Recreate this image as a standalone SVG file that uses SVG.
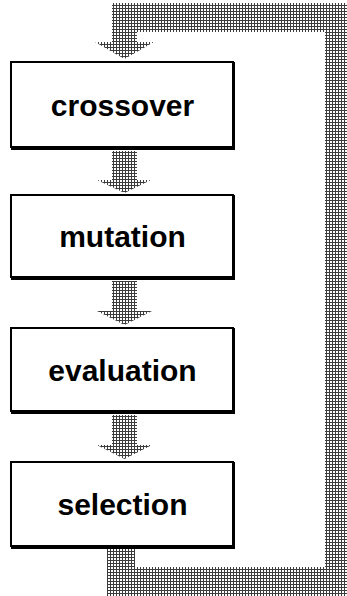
<svg xmlns="http://www.w3.org/2000/svg" width="347" height="596" viewBox="0 0 347 596">
  <defs>
    <pattern id="dither" width="3" height="3" patternUnits="userSpaceOnUse">
      <rect width="3" height="3" fill="#3c3c3c"/>
      <rect x="0" y="0" width="2" height="2" fill="#ffffff"/>
    </pattern>
  </defs>
  <style>
    .box { fill: #ffffff; stroke: #000000; stroke-width: 2; }
    .shade { stroke: #000000; stroke-width: 3; fill: none; }
    .lbl { font-family: "Liberation Sans", Arial, sans-serif; font-weight: bold; font-size: 30px; fill: #000000; text-anchor: middle; }
    .flow { fill: url(#dither); stroke: none; }
  </style>

  <g id="connectors">
    <!-- feedback loop from selection back to crossover -->
    <path class="flow" d="M107,549 L135,549 L135,567 L325,567 L325,32 L137,32 L137,42 L154,42 L124.5,59 L95,42 L112,42 L112,3 L347,3 L347,596 L107,596 Z"/>
    <!-- crossover -> mutation -->
    <path class="flow" d="M112,151 L137,151 L137,180 L151,180 L124.5,193 L97,180 L112,180 Z"/>
    <!-- mutation -> evaluation -->
    <path class="flow" d="M112,281 L137,281 L137,311 L152,311 L124.5,325 L97,311 L112,311 Z"/>
    <!-- evaluation -> selection -->
    <path class="flow" d="M112,415 L137,415 L137,445 L152,445 L124.5,459 L97,445 L112,445 Z"/>
  </g>

  <g id="crossover">
    <rect class="box" x="11" y="62" width="222" height="85"/>
    <path class="shade" d="M233.5,62 V148.5 H11"/>
    <text class="lbl" x="122.5" y="116">crossover</text>
  </g>
  <g id="mutation">
    <rect class="box" x="11" y="195" width="222" height="82"/>
    <path class="shade" d="M233.5,195 V278.5 H11"/>
    <text class="lbl" x="122.5" y="247">mutation</text>
  </g>
  <g id="evaluation">
    <rect class="box" x="11" y="328" width="222" height="83"/>
    <path class="shade" d="M233.5,328 V412.5 H11"/>
    <text class="lbl" x="122.5" y="381">evaluation</text>
  </g>
  <g id="selection">
    <rect class="box" x="11" y="462" width="222" height="84"/>
    <path class="shade" d="M233.5,462 V547.5 H11"/>
    <text class="lbl" x="122.5" y="515">selection</text>
  </g>
</svg>
